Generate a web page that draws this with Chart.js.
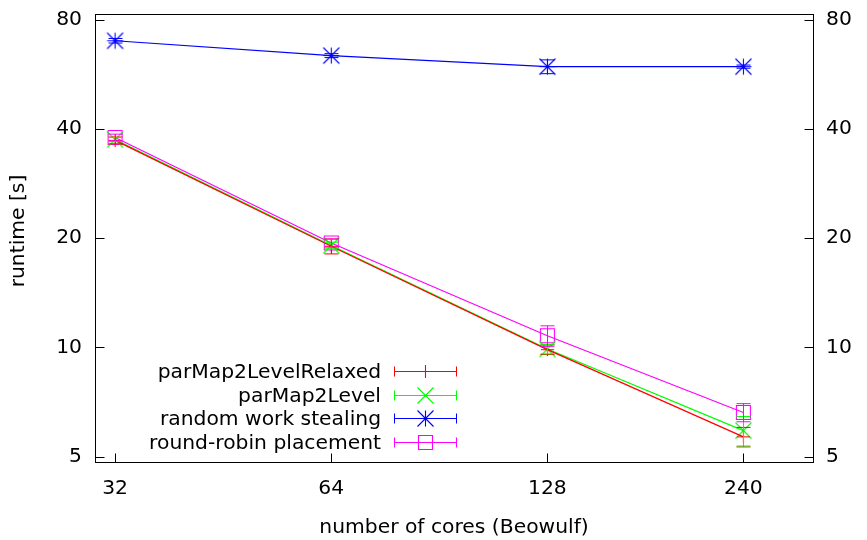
<!DOCTYPE html>
<html>
<head>
<meta charset="utf-8">
<script src="https://cdn.jsdelivr.net/npm/chart.js@4/dist/chart.umd.min.js"></script>
<style>
  html, body { margin: 0; background: #fff; }
  #wrap { width: 867px; height: 540px; }
</style>
</head>
<body>
<div id="wrap"><canvas id="chart"></canvas></div>
<script>
// Tempo de execução vs. número de cores (Beowulf), eixos log-log, estilo gnuplot.
var CORES = [32, 64, 128, 240];
var Y_TICKS = [5, 10, 20, 40, 80];

var RELAXED = [37.2, 19.0, 9.86, 5.67];
var RELAXED_ERR = [0.8, 0.9, 0.3, 0.35];
var LEVEL = [37.4, 19.1, 9.9, 5.9];
var LEVEL_ERR = [0.5, 0.4, 0.3, 0.55];
var STEALING = [70.0, 63.7, 59.4, 59.4];
var STEALING_ERR = [1.0, 0.8, 2.6, 0.6];
var ROUND_ROBIN = [37.9, 19.4, 10.77, 6.62];
var ROUND_ROBIN_ERR = [0.8, 0.5, 0.7, 0.38];

var FONT = { family: "'DejaVu Sans', sans-serif", size: 20.3 };
var INK = "#000000";

// marcadores do gnuplot: + , x , * , quadrado
function marker(kind, color) {
  var s = 19, m = 9.5, c = document.createElement("canvas");
  c.width = s; c.height = s;
  var g = c.getContext("2d");
  g.strokeStyle = color; g.fillStyle = color; g.lineWidth = 1.1;
  g.beginPath();
  if (kind === "plus" || kind === "star") {
    var p = kind === "plus" ? 6.5 : 8;
    g.moveTo(m - p, m); g.lineTo(m + p, m);
    g.moveTo(m, m - p); g.lineTo(m, m + p);
  }
  if (kind === "cross" || kind === "star") {
    var d = 8;
    g.moveTo(m - d, m - d); g.lineTo(m + d, m + d);
    g.moveTo(m + d, m - d); g.lineTo(m - d, m + d);
  }
  if (kind === "box") {
    g.rect(m - 7, m - 7, 14, 14);
  }
  g.stroke();
  if (kind === "box") g.fillRect(9, 9, 1, 1);
  return c;
}

function series(label, values, errors, color, kind) {
  return {
    label: label,
    data: CORES.map(function (x, i) { return { x: x, y: values[i] }; }),
    errors: errors,
    borderColor: color,
    backgroundColor: color,
    borderWidth: 1.2,
    pointStyle: marker(kind, color),
    pointRadius: 8,
    tension: 0,
    fill: false,
  };
}

// barras de erro verticais com "chapéu"
var errorBars = {
  id: "errorBars",
  afterDatasetsDraw: function (chart) {
    var ctx = chart.ctx, xs = chart.scales.x, ys = chart.scales.y;
    chart.data.datasets.forEach(function (ds) {
      ctx.save();
      ctx.strokeStyle = ds.borderColor;
      ctx.lineWidth = 1;
      ds.data.forEach(function (p, i) {
        var e = ds.errors[i];
        var x = Math.round(xs.getPixelForValue(p.x)) + 0.5;
        var y1 = ys.getPixelForValue(p.y - e), y2 = ys.getPixelForValue(p.y + e);
        ctx.beginPath();
        ctx.moveTo(x, y1); ctx.lineTo(x, y2);
        ctx.moveTo(x - 7, y1); ctx.lineTo(x + 7, y1);
        ctx.moveTo(x - 7, y2); ctx.lineTo(x + 7, y2);
        ctx.stroke();
      });
      ctx.restore();
    });
  },
};

// moldura, marcas internas, título do eixo y e legenda no estilo gnuplot
var frame = {
  id: "frame",
  afterDraw: function (chart) {
    var ctx = chart.ctx, a = chart.chartArea;
    var xs = chart.scales.x, ys = chart.scales.y;
    var L = Math.round(a.left) + 0.5, R = Math.round(a.right) + 0.5;
    var T = Math.round(a.top) + 0.5, B = Math.round(a.bottom) + 0.5;
    ctx.save();
    ctx.strokeStyle = INK;
    ctx.lineWidth = 1;
    ctx.beginPath();
    Y_TICKS.forEach(function (v) {
      var y = Math.round(ys.getPixelForValue(v)) + 0.5;
      ctx.moveTo(L, y); ctx.lineTo(L + 9, y);
      ctx.moveTo(R, y); ctx.lineTo(R - 9, y);
    });
    CORES.forEach(function (v) {
      var x = Math.round(xs.getPixelForValue(v)) + 0.5;
      ctx.moveTo(x, B); ctx.lineTo(x, B - 9);
    });
    ctx.stroke();
    ctx.strokeRect(L, T, R - L, B - T);

    ctx.font = FONT.size + "px " + FONT.family;
    ctx.fillStyle = INK;

    // título do eixo y (gnuplot centra um pouco acima do meio)
    ctx.save();
    ctx.translate(19, 231);
    ctx.rotate(-Math.PI / 2);
    ctx.textAlign = "center";
    ctx.textBaseline = "middle";
    ctx.fillText("runtime [s]", 0, 0);
    ctx.restore();

    // legenda
    ctx.textAlign = "right";
    ctx.textBaseline = "middle";
    chart.data.datasets.forEach(function (ds, i) {
      var y = Math.round(371 + i * 23.5) + 0.5;
      ctx.fillStyle = INK;
      ctx.fillText(ds.label, 381, y + 1);
      ctx.strokeStyle = ds.borderColor;
      ctx.beginPath();
      ctx.moveTo(394.5, y); ctx.lineTo(456.5, y);
      ctx.moveTo(394.5, y - 5); ctx.lineTo(394.5, y + 5);
      ctx.moveTo(456.5, y - 5); ctx.lineTo(456.5, y + 5);
      ctx.stroke();
      var img = ds.pointStyle;
      ctx.drawImage(img, 425.5 - img.width / 2, y - img.height / 2);
    });
    ctx.restore();
  },
};

function fixedTicks(values) {
  return function (scale) {
    scale.ticks = values.map(function (v) { return { value: v }; });
  };
}

// largura fixa do eixo e sem folga extra para os rótulos das pontas
function fixWidth(w) {
  return function (scale) {
    scale.width = w;
    scale.paddingTop = 0;
    scale.paddingBottom = 0;
  };
}

new Chart(document.getElementById("chart"), {
  type: "line",
  data: {
    datasets: [
      series("parMap2LevelRelaxed", RELAXED, RELAXED_ERR, "#ff0000", "plus"),
      series("parMap2Level", LEVEL, LEVEL_ERR, "#00ff00", "cross"),
      series("random work stealing", STEALING, STEALING_ERR, "#0000ff", "star"),
      series("round-robin placement", ROUND_ROBIN, ROUND_ROBIN_ERR, "#ff00ff", "box"),
    ],
  },
  options: {
    responsive: true,
    maintainAspectRatio: false,
    animation: false,
    layout: { padding: { top: 14, left: 0, right: 0, bottom: 0 } },
    plugins: { legend: { display: false }, tooltip: { enabled: false } },
    scales: {
      x: {
        type: "logarithmic",
        min: 30,
        max: 300,
        afterBuildTicks: fixedTicks(CORES),
        afterFit: function (scale) {
          scale.height = 78;
          scale.paddingLeft = 0;
          scale.paddingRight = 0;
        },
        grid: { display: false, drawTicks: false },
        border: { display: false },
        ticks: {
          font: FONT,
          color: INK,
          padding: 15,
          maxRotation: 0,
          callback: function (v) { return String(v); },
        },
        title: {
          display: true,
          text: "number of cores (Beowulf)",
          font: FONT,
          color: INK,
          padding: { top: 1, bottom: 0 },
        },
      },
      y: {
        type: "logarithmic",
        position: "left",
        min: 4.834,
        max: 82.95,
        afterBuildTicks: fixedTicks(Y_TICKS),
        afterFit: fixWidth(95),
        grid: { display: false, drawTicks: false },
        border: { display: false },
        ticks: {
          font: FONT,
          color: INK,
          padding: 13,
          callback: function (v) { return String(v); },
        },
      },
      y2: {
        type: "logarithmic",
        position: "right",
        min: 4.834,
        max: 82.95,
        afterBuildTicks: fixedTicks(Y_TICKS),
        afterFit: fixWidth(54),
        grid: { display: false, drawTicks: false },
        border: { display: false },
        ticks: {
          font: FONT,
          color: INK,
          padding: 13,
          callback: function (v) { return String(v); },
        },
      },
    },
  },
  plugins: [errorBars, frame],
});
</script>
</body>
</html>
